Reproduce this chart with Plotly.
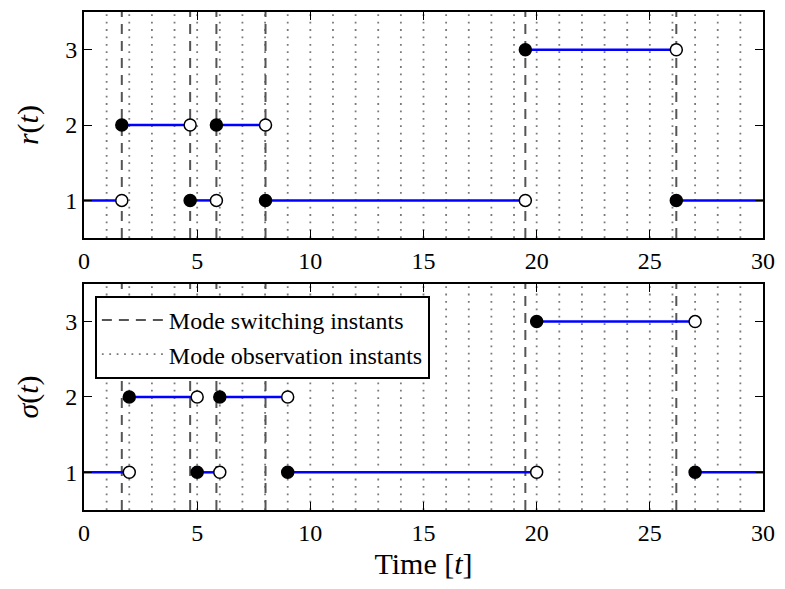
import plotly.graph_objects as go
from plotly.subplots import make_subplots

# ---- data ----
switch_times = [1.67, 4.69, 5.85, 8.02, 19.5, 26.17]          # mode switching instants
obs_times = [1, 2, 3, 4, 5, 6, 7, 8, 9, 10, 11, 12, 13, 14, 15,
             16, 17, 18, 19, 20, 21, 22, 23, 24, 25, 26, 27, 28, 29]  # observation instants
r_breaks = [0, 1.67, 4.69, 5.85, 8.02, 19.5, 26.17, 30]
r_modes = [1, 2, 1, 2, 1, 3, 1]
sigma_breaks = [0, 2, 5, 6, 9, 20, 27, 30]
sigma_modes = [1, 2, 1, 2, 1, 3, 1]
x_ticks = [0, 5, 10, 15, 20, 25, 30]
y_ticks = [1, 2, 3]
y_range = [0.5, 3.5]
x_range = [0, 30]

FONT = "'Liberation Serif', 'Times New Roman', 'DejaVu Serif', serif"
BLUE = "#0000ff"

fig = make_subplots(rows=2, cols=1, vertical_spacing=0.092)


def vlines(xs):
    X, Y = [], []
    for x in xs:
        X += [x, x, None]
        Y += [y_range[0], y_range[1], None]
    return X, Y


def add_panel(row, breaks, modes, show_leg):
    # observation instants (dotted)
    X, Y = vlines(obs_times)
    fig.add_trace(go.Scatter(x=X, y=Y, mode="lines",
                             line=dict(color="#7a7a7a", width=1.8, dash="1.8px,5.6px"),
                             name="Mode observation instants", legendrank=2,
                             showlegend=show_leg, hoverinfo="skip"), row=row, col=1)
    # switching instants (dashed)
    X, Y = vlines(switch_times)
    fig.add_trace(go.Scatter(x=X, y=Y, mode="lines",
                             line=dict(color="#555555", width=2, dash="10px,7px"),
                             name="Mode switching instants", legendrank=1,
                             showlegend=show_leg, hoverinfo="skip"), row=row, col=1)
    # step segments
    LX, LY = [], []
    for i, m in enumerate(modes):
        LX += [breaks[i], breaks[i + 1], None]
        LY += [m, m, None]
    fig.add_trace(go.Scatter(x=LX, y=LY, mode="lines",
                             line=dict(color=BLUE, width=2.5),
                             showlegend=False, hoverinfo="skip"), row=row, col=1)
    # open (end) and filled (start) markers
    ox, oy, fx, fy = [], [], [], []
    for i in range(1, len(modes)):
        ox.append(breaks[i]); oy.append(modes[i - 1])
        fx.append(breaks[i]); fy.append(modes[i])
    fig.add_trace(go.Scatter(x=ox, y=oy, mode="markers",
                             marker=dict(size=12, color="white",
                                         line=dict(color="black", width=1.5)),
                             showlegend=False, hoverinfo="skip"), row=row, col=1)
    fig.add_trace(go.Scatter(x=fx, y=fy, mode="markers",
                             marker=dict(size=12, color="black",
                                         line=dict(color="black", width=1.5)),
                             showlegend=False, hoverinfo="skip"), row=row, col=1)


add_panel(1, r_breaks, r_modes, False)
add_panel(2, sigma_breaks, sigma_modes, True)

axis_common = dict(showgrid=False, zeroline=False, showline=True, linecolor="black",
                   linewidth=2, mirror="ticks", ticks="inside", ticklen=8,
                   tickwidth=1.3, tickcolor="black",
                   tickfont=dict(family=FONT, size=24, color="black"))

for r in (1, 2):
    fig.update_xaxes(range=x_range, tickvals=x_ticks, row=r, col=1, **axis_common)
    fig.update_yaxes(range=y_range, tickvals=y_ticks, row=r, col=1, **axis_common)

fig.update_yaxes(title=dict(text="<i>r</i>(<i>t</i>)", font=dict(family=FONT, size=30, color="black"),
                            standoff=18), row=1, col=1)
fig.update_yaxes(title=dict(text="<i>σ</i>(<i>t</i>)", font=dict(family=FONT, size=30, color="black"),
                            standoff=18), row=2, col=1)
fig.update_xaxes(title=dict(text="Time [<i>t</i>]", font=dict(family=FONT, size=30, color="black"),
                            standoff=8), row=2, col=1)

fig.update_layout(
    width=785, height=589,
    margin=dict(l=84, r=18, t=10, b=79),
    paper_bgcolor="white", plot_bgcolor="white",
    font=dict(family=FONT, color="black"),
    legend=dict(x=0.016, y=0.43, xanchor="left", yanchor="top",
                bordercolor="black", borderwidth=2, bgcolor="white",
                font=dict(family=FONT, size=24, color="black"),
                itemwidth=62, tracegroupgap=0),
    showlegend=True,
)

fig.write_html("out.html")
